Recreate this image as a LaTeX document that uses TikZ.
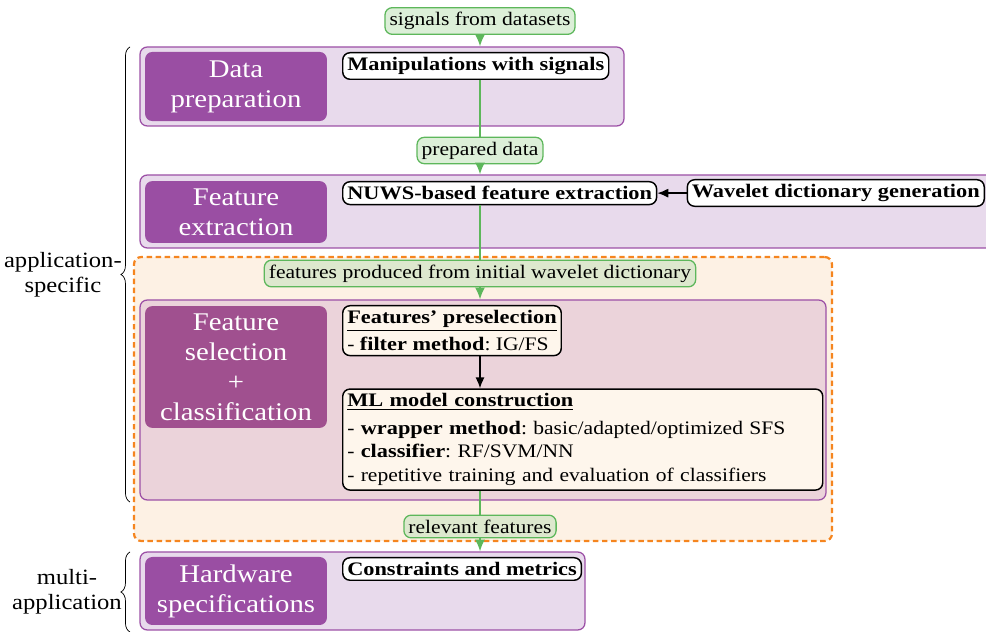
\documentclass[tikz,border=0pt]{standalone}
\usepackage{fontspec}
\setmainfont{Liberation Serif}[FakeStretch=1.13, BoldFeatures={FakeStretch=1.17}]
\frenchspacing
\usetikzlibrary{arrows.meta, positioning, fit, decorations.pathreplacing}
\definecolor{grp_fill}{HTML}{E8DAEC}
\definecolor{grp_line}{HTML}{9C50A6}
\definecolor{stage_fill}{HTML}{9A4EA3}
\definecolor{sel_fill}{HTML}{EBD3DA}
\definecolor{sel_stage}{HTML}{A0508F}
\definecolor{reg_fill}{HTML}{FDF1E4}
\definecolor{reg_line}{HTML}{F5851F}
\definecolor{flow_fill}{HTML}{DCEFD8}
\definecolor{flow_fill2}{HTML}{DDE8CE}
\definecolor{flow_line}{HTML}{5DB75B}
\definecolor{task_fill}{HTML}{FEF6EC}
\tikzset{
    group/.style={draw=grp_line, fill=grp_fill, rounded corners=4pt, inner sep=0pt, line width=0.7pt},
    stage/.style={fill=stage_fill, rounded corners=4pt, inner sep=0pt, text=white, font=\fontsize{14}{16.5}\selectfont, align=center, minimum width=100pt},
    region/.style={draw=reg_line, fill=reg_fill, dashed, dash pattern=on 3pt off 2pt, line width=1.2pt, rounded corners=4pt, inner sep=0pt},
    task/.style={rectangle, draw, thick, rounded corners=4pt, fill=white, align=left, inner sep=2.5pt},
    flowlabel/.style={rectangle, draw=flow_line, fill=flow_fill, rounded corners=4pt, inner sep=2.5pt, line width=0.7pt},
    flow/.style={draw=flow_line, line width=0.8pt, -{Latex[length=6.5pt, width=5.5pt]}},
    arrow/.style={thick, -{Latex[length=6pt, width=5pt]}}
}

\begin{document}
\begin{tikzpicture}[x=0.55pt, y=-0.55pt, font=\fontsize{10.5}{13}\selectfont]
        \useasboundingbox (0,0) rectangle (986,632);

        % Orange region round selection stage
        \node (regSel) [region, fit={(134,257) (832,541)}] {};

        % Stage containers
        \node (grpPrep) [group, fit={(140,47) (624,126)}] {};
        \node (grpFeat) [group, fit={(140,175) (994,248)}] {};
        \node (grpSel) [group, fill=sel_fill, fit={(140,300) (826,500)}] {};
        \node (grpHw) [group, fit={(140,552) (585,630)}] {};

        \node (labPrep) [stage, minimum height=38pt] at (236,86.5) {Data\\preparation};
        \node (labFeat) [stage, minimum height=34pt] at (236,212) {Feature\\extraction};
        \node (labSel) [stage, fill=sel_stage, minimum height=67pt] at (236,367) {Feature\\selection\\+\\classification};
        \node (labHw) [stage, minimum height=37.4pt] at (236,591) {Hardware\\specifications};

        % Tasks
        \node (manip) [task, anchor=north west] at (342,52) {\textbf{Manipulations with signals}};
        \node (nuws) [task, anchor=north west] at (342,181) {\textbf{NUWS-based feature extraction}};
        \node (wavelet) [task, anchor=north east] at (985,179) {\textbf{Wavelet dictionary generation}};
        \node (presel) [task, fill=task_fill, anchor=north west] at (342,305) {\underline{\textbf{Features' preselection}}\\[2pt]- \textbf{filter method}: IG/FS};
        \node (ml) [task, fill=task_fill, text width=259pt, below right=17.6pt and 0pt of presel.south west] {\underline{\textbf{ML model construction}}\\[2pt]- \textbf{wrapper method}: basic/adapted/optimized SFS\\- \textbf{classifier}: RF/SVM/NN\\- repetitive training and evaluation of classifiers};
        \node (constr) [task, anchor=north west] at (342,557) {\textbf{Constraints and metrics}};

        % Data labels
        \node (sig) [flowlabel] at (480,21) {signals from datasets};
        \node (prepared) [flowlabel] at (480,150.5) {prepared data};
        \node (feat) [flowlabel, fill=flow_fill2] at (480,273.5) {features produced from initial wavelet dictionary};
        \node (relevant) [flowlabel, fill=flow_fill2] at (480,526.5) {relevant features};

        % Flow
        \draw[flow] (sig) -- (sig |- grpPrep.north);
        \draw[flow, -] (prepared |- manip.south) -- (prepared);
        \draw[flow] (prepared) -- (prepared |- grpFeat.north);
        \draw[flow, -] (feat |- nuws.south) -- (feat);
        \draw[flow] (feat) -- (feat |- grpSel.north);
        \draw[flow, -] (relevant |- ml.south) -- (relevant);
        \draw[flow] (relevant) -- (relevant |- grpHw.north);
        \draw[arrow] (presel.south -| feat) -- (ml.north -| feat);
        \draw[arrow] (wavelet.west |- nuws) -- (nuws);

        % Braces
        \draw[decorate, decoration={brace, amplitude=5pt}] (130,502) -- (130,47) node (appSpec) [midway, left=1pt, align=center, font=\large] {application-\\specific};
        \draw[decorate, decoration={brace, amplitude=5pt}] (130,632) -- (130,552) node (multiApp) [midway, left=1pt, align=center, font=\large] {multi-\\application};

    \end{tikzpicture}
\end{document}
